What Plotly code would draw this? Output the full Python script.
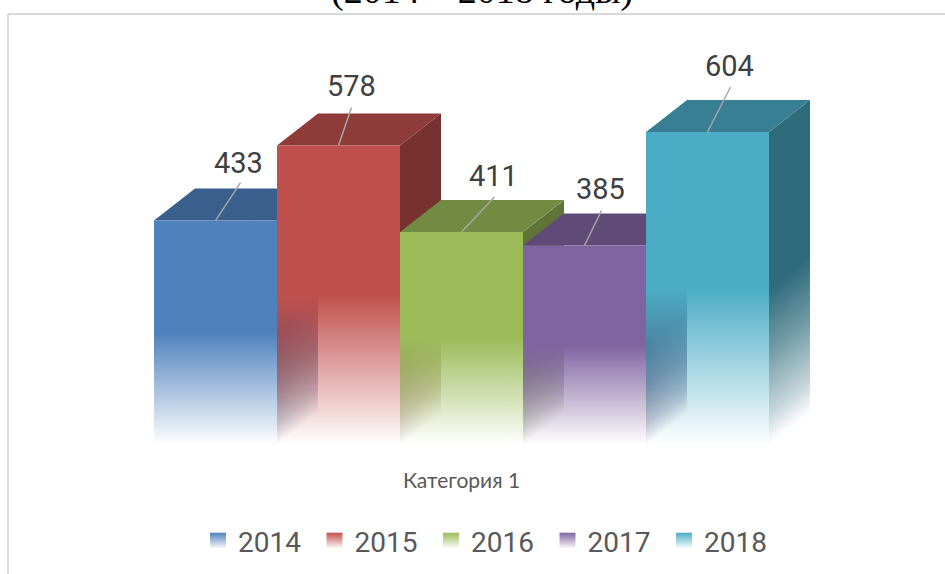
import plotly.graph_objects as go

years = ["2014", "2015", "2016", "2017", "2018"]
values = [433, 578, 411, 385, 604]
category_label = "Категория 1"
title_text = "(2014 – 2018 годы)"

front_rgb = [(79, 129, 189), (192, 80, 77), (155, 187, 89), (128, 100, 162), (75, 172, 198)]
label_offsets = [(23, -58), (13, -59), (32, -56), (16, -56), (22, -66)]
leader_offsets = [(25, -38), (13, -38), (33, -35), (17, -35), (23, -45)]

W, H = 945, 574
BASE_PX = 445
CAT_PX = 123
X0_PX = 215.5
PX_PER_UNIT = 0.5182
DEPTH_X_PX = 41
DEPTH_Y_PX = 32


def shade(rgb, f):
    return tuple(round(c * f) for c in rgb)


def rgba(rgb, a):
    return f"rgba({rgb[0]},{rgb[1]},{rgb[2]},{a})"


def fade(rgb):
    return [[0, rgba(rgb, 0)], [0.5, rgba(rgb, 1)], [1, rgba(rgb, 1)]]


def side_fade(rgb):
    return [[0, rgba(rgb, 0)], [0.1, rgba(rgb, 0.28)], [0.3, rgba(rgb, 0.68)], [0.5, rgba(rgb, 1)], [1, rgba(rgb, 1)]]


dx = DEPTH_X_PX / CAT_PX
dy = DEPTH_Y_PX / PX_PER_UNIT
fig = go.Figure()

for i, (year, v, rgb) in enumerate(zip(years, values, front_rgb)):
    l, r = i - 0.5, i + 0.5
    side = shade(rgb, 0.62)
    # side face, in one-pixel strips so that the fade runs along the depth
    for k in range(DEPTH_X_PX):
        t0, t1 = k / DEPTH_X_PX, (k + 1) / DEPTH_X_PX
        tm = (t0 + t1) / 2
        fig.add_trace(go.Scatter(
            x=[r + dx * t0, r + dx * t1, r + dx * t1, r + dx * t0, r + dx * t0],
            y=[dy * tm, dy * tm, v + dy * t1, v + dy * t0, dy * tm],
            mode="lines", line=dict(width=0), fill="toself",
            fillgradient=dict(type="vertical", start=dy * tm, stop=v + dy * tm, colorscale=side_fade(side)),
            hoverinfo="skip", showlegend=False))
    # top face
    fig.add_trace(go.Scatter(
        x=[l, l + dx, r + dx, r, l], y=[v, v + dy, v + dy, v, v],
        mode="lines", line=dict(width=0), fill="toself",
        fillcolor=rgba(shade(rgb, 0.74), 1), hoverinfo="skip", showlegend=False))
    # front face
    fig.add_trace(go.Scatter(
        x=[l, r, r, l, l], y=[0, 0, v, v, 0],
        mode="lines", line=dict(width=0), fill="toself",
        fillgradient=dict(type="vertical", start=0, stop=v, colorscale=fade(rgb)),
        hoverinfo="skip", showlegend=False))

# leader lines
for i, (v, (ox, oy)) in enumerate(zip(values, leader_offsets)):
    fig.add_trace(go.Scatter(
        x=[i, i + ox / CAT_PX], y=[v, v - oy / PX_PER_UNIT], mode="lines",
        line=dict(color="#a6a6a6", width=1.5), hoverinfo="skip", showlegend=False))

# legend entries
for year, rgb in zip(years, front_rgb):
    fig.add_trace(go.Scatter(
        x=[None], y=[None], name=year, mode="markers",
        marker=dict(symbol="square", size=16, color=rgba(rgb, 1),
                    gradient=dict(type="vertical", color="white"))))

# value labels
for i, (v, (ax, ay)) in enumerate(zip(values, label_offsets)):
    fig.add_annotation(x=i, y=v, text=str(v), showarrow=False, xshift=ax, yshift=-ay,
                       xanchor="center", yanchor="middle",
                       font=dict(family="Roboto", size=29, color="#404040"))

fig.add_annotation(xref="paper", yref="paper", x=482 / W, y=(BASE_PX - 14) / BASE_PX,
                   text=title_text, showarrow=False, yanchor="bottom", xanchor="center",
                   font=dict(family="Liberation Serif", size=38, color="black"))

fig.update_layout(
    width=W, height=H,
    margin=dict(l=0, r=0, t=0, b=H - BASE_PX, pad=0),
    paper_bgcolor="white", plot_bgcolor="white",
    xaxis=dict(range=[-X0_PX / CAT_PX, (W - X0_PX) / CAT_PX], tickmode="array", tickvals=[2],
               ticktext=[category_label], ticks="outside", ticklen=17, tickcolor="rgba(0,0,0,0)",
               showgrid=False, zeroline=False, showline=False, fixedrange=True,
               tickfont=dict(family="Lato", size=21, color="#595959")),
    yaxis=dict(range=[0, BASE_PX / PX_PER_UNIT], visible=False, fixedrange=True),
    showlegend=True,
    legend=dict(orientation="h", x=198 / W, xanchor="left", y=(BASE_PX - 541) / BASE_PX, yanchor="middle",
                entrywidth=71.5, entrywidthmode="pixels", bgcolor="rgba(0,0,0,0)",
                font=dict(family="Roboto", size=28, color="#595959")),
    shapes=[
        dict(type="line", xref="paper", yref="paper", x0=8 / W, x1=1, y0=(BASE_PX - 14) / BASE_PX, y1=(BASE_PX - 14) / BASE_PX,
             line=dict(color="#d9d9d9", width=2)),
        dict(type="line", xref="paper", yref="paper", x0=8 / W, x1=8 / W, y0=(BASE_PX - 14) / BASE_PX, y1=(BASE_PX - H) / BASE_PX,
             line=dict(color="#d9d9d9", width=2)),
    ],
)

fig.write_html("out.html", config={"displayModeBar": False},
               post_script="document.body.style.margin='0';document.body.style.overflow='hidden';")
